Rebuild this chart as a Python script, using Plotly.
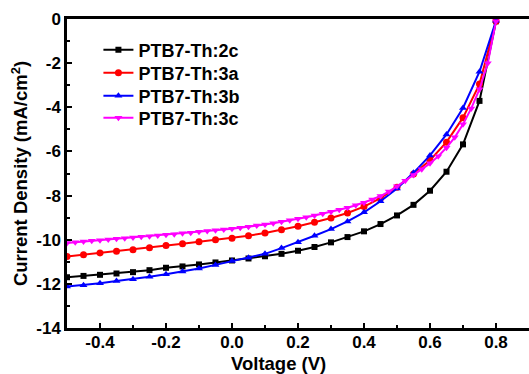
import plotly.graph_objects as go

# ---- data ----
v_step05 = [round(-0.5 + 0.05 * i, 3) for i in range(27)]
v_step025 = [round(-0.5 + 0.025 * i, 3) for i in range(53)]

j_2c = [-11.70, -11.64, -11.59, -11.53, -11.47, -11.38, -11.27, -11.21, -11.12, -11.03,
        -10.94, -10.85, -10.75, -10.64, -10.50, -10.33, -10.12, -9.88, -9.62, -9.29,
        -8.90, -8.42, -7.78, -6.92, -5.68, -3.71, -0.10]
j_3a = [-10.76, -10.68, -10.60, -10.52, -10.45, -10.36, -10.26, -10.18, -10.09, -10.00,
        -9.93, -9.82, -9.70, -9.55, -9.39, -9.21, -9.02, -8.79, -8.50, -8.12,
        -7.62, -7.02, -6.40, -5.58, -4.47, -2.95, -0.10]
j_3b = [-12.12, -12.06, -11.97, -11.87, -11.79, -11.68, -11.56, -11.44, -11.30, -11.14,
        -10.97, -10.82, -10.64, -10.38, -10.11, -9.82, -9.52, -9.17, -8.76, -8.26,
        -7.68, -6.97, -6.18, -5.23, -4.03, -2.39, -0.08]
j_3c = [-10.15, -10.12, -10.08, -10.05, -10.02, -9.99, -9.96, -9.93, -9.90, -9.87,
        -9.84, -9.81, -9.78, -9.75, -9.71, -9.68, -9.64, -9.61, -9.57, -9.54,
        -9.50, -9.46, -9.41, -9.36, -9.31, -9.25, -9.19, -9.12, -9.05, -8.98,
        -8.90, -8.82, -8.73, -8.64, -8.55, -8.44, -8.32, -8.18, -8.02, -7.82,
        -7.58, -7.33, -7.07, -6.81, -6.54, -6.22, -5.83, -5.36, -4.77, -4.05,
        -3.18, -2.00, -0.10]

series = [
    ("PTB7-Th:2c", v_step05, j_2c, "#000000", "square", 6),
    ("PTB7-Th:3a", v_step05, j_3a, "#ff0000", "circle", 7),
    ("PTB7-Th:3b", v_step05, j_3b, "#0000ff", "triangle-up", 7),
    ("PTB7-Th:3c", v_step025, j_3c, "#ff00ff", "triangle-down", 7),
]

x_ticks = [-0.4, -0.2, 0.0, 0.2, 0.4, 0.6, 0.8]
x_ticktext = ["-0.4", "-0.2", "0.0", "0.2", "0.4", "0.6", "0.8"]
y_ticks = [0, -2, -4, -6, -8, -10, -12, -14]
y_ticktext = ["0", "-2", "-4", "-6", "-8", "-10", "-12", "-14"]

FONT = "Liberation Sans, Arial, sans-serif"
PLOT_T, PLOT_H = 19, 309

fig = go.Figure()
legend_ids = ["legend", "legend2", "legend3", "legend4"]
for i, (name, xs, ys, col, sym, sz) in enumerate(series):
    fig.add_trace(go.Scatter(
        x=xs, y=ys, name=name, mode="lines+markers",
        line=dict(color=col, width=2),
        marker=dict(symbol=sym, size=sz, color=col),
        legend=legend_ids[i],
    ))

axis_common = dict(
    showline=True, linecolor="black", linewidth=2.5,
    ticks="inside", ticklen=5, tickwidth=2, tickcolor="black",
    showgrid=False, zeroline=False,
    tickfont=dict(family=FONT, size=17, color="black", weight="bold"),
)

fig.update_xaxes(
    range=[-0.5, 0.9], tickvals=x_ticks, ticktext=x_ticktext,
    mirror=True,
    minor=dict(dtick=0.1, ticks="inside", ticklen=3, tickwidth=2, tickcolor="black"),
    ticklabelstandoff=-3,
    **axis_common,
)
fig.update_yaxes(
    range=[-14, 0], tickvals=y_ticks, ticktext=y_ticktext,
    minor=dict(dtick=1, ticks="inside", ticklen=3, tickwidth=2, tickcolor="black"),
    title=dict(text="Current Density (mA/cm<sup>2</sup>)",
               font=dict(family=FONT, size=18.5, color="black", weight="bold"), standoff=4),
    ticklabelstandoff=0,
    **axis_common,
)

fig.add_annotation(
    text="Voltage (V)", xref="paper", yref="paper",
    x=(278 - 67) / 462, y=-(363 - 328) / PLOT_H, xanchor="center", yanchor="middle",
    showarrow=False,
    font=dict(family=FONT, size=18.5, color="black", weight="bold"),
)

legend_y_px = [50, 73, 96, 118]
leg_layout = {}
for lid, ypx in zip(legend_ids, legend_y_px):
    leg_layout[lid] = dict(
        x=0.068, y=1 - (ypx - PLOT_T) / PLOT_H, xanchor="left", yanchor="middle",
        bgcolor="rgba(0,0,0,0)",
        font=dict(family=FONT, size=18, color="black", weight="bold"),
    )

fig.update_layout(
    width=529, height=374,
    margin=dict(l=67, r=0, t=PLOT_T, b=46, autoexpand=False),
    paper_bgcolor="white", plot_bgcolor="white",
    showlegend=True,
    **leg_layout,
)

fig.write_html("out.html")
